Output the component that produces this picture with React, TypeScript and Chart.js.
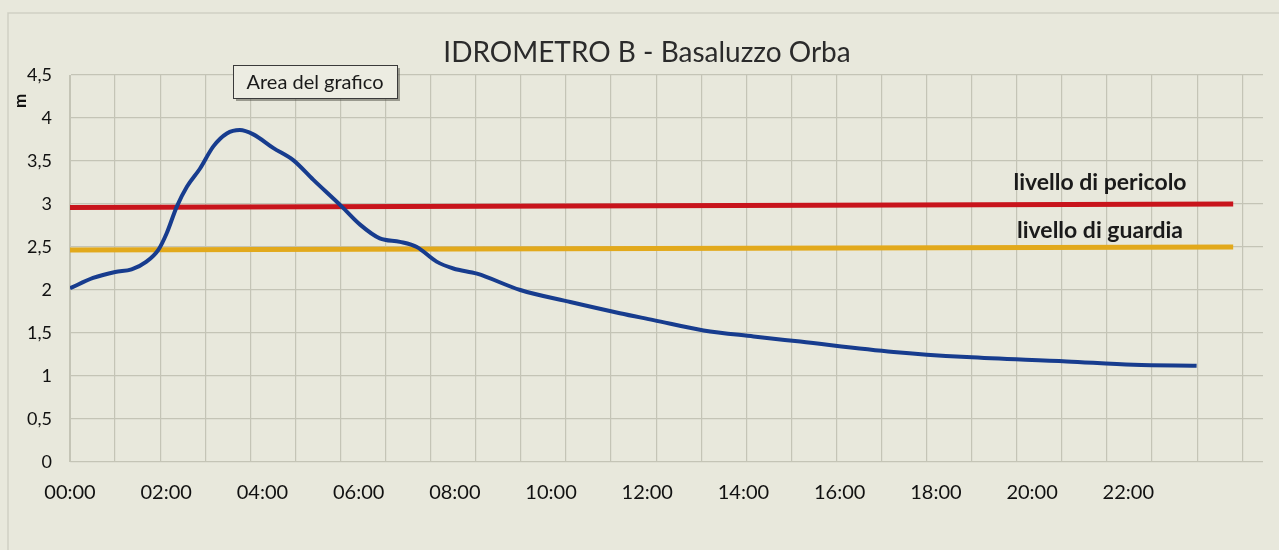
import React, { useEffect, useRef } from "react";
import { Chart, registerables } from "chart.js";

Chart.register(...registerables);

// ---- data ----
const chartTitle = "IDROMETRO B - Basaluzzo Orba";
const yUnit = "m";
const hours = [0, 0.48, 0.94, 1.28, 1.59, 1.84, 2.01, 2.22, 2.43, 2.7, 2.98, 3.26, 3.53, 3.81, 4.23, 4.64, 5.06, 5.65, 6.03, 6.44, 6.86, 7.21, 7.62, 7.97, 8.46, 9.36, 10.4, 11.43, 12.13, 13.17, 14.21, 15.18, 17.12, 18.64, 20.72, 22.11, 23.42];
const levels = [2.02, 2.14, 2.21, 2.24, 2.33, 2.47, 2.66, 2.97, 3.2, 3.41, 3.67, 3.82, 3.86, 3.81, 3.65, 3.51, 3.28, 2.97, 2.76, 2.6, 2.56, 2.5, 2.33, 2.25, 2.19, 2.0, 1.86, 1.73, 1.65, 1.53, 1.46, 1.4, 1.28, 1.22, 1.17, 1.13, 1.12];
const thresholdHours = [0, 24.18];
const dangerLevel = [2.96, 3.0];
const guardLevel = [2.465, 2.5];
const dangerLabel = "livello di pericolo";
const guardLabel = "livello di guardia";
const tooltipLabel = "Area del grafico";
const xLabelHours = [0, 2, 4, 6, 8, 10, 12, 14, 16, 18, 20, 22];

const FONT = "Lato, 'Open Sans', sans-serif";
const BG = "#e8e8dc";
const GRID = "#c4c4b6";

const fmtHour = (h: number) => String(h).padStart(2, "0") + ":00";

const decorPlugin = {
  id: "decor",
  beforeDraw(chart: any) {
    const { ctx, width, height } = chart;
    ctx.save();
    ctx.fillStyle = BG;
    ctx.fillRect(0, 0, width, height);
    ctx.strokeStyle = "#cfcfc3";
    ctx.lineWidth = 1.5;
    ctx.beginPath();
    ctx.moveTo(8, height);
    ctx.lineTo(8, 13);
    ctx.lineTo(width, 13);
    ctx.stroke();
    ctx.restore();
  },
  afterDraw(chart: any) {
    const { ctx } = chart;
    ctx.save();
    // title
    ctx.fillStyle = "#2b2b2b";
    ctx.font = `28px ${FONT}`;
    ctx.textAlign = "center";
    ctx.textBaseline = "alphabetic";
    ctx.fillText(chartTitle, 647, 62);

    // y unit (rotated)
    ctx.save();
    ctx.translate(21, 101);
    ctx.rotate(-Math.PI / 2);
    ctx.font = `bold 17px ${FONT}`;
    ctx.fillStyle = "#111";
    ctx.textAlign = "center";
    ctx.textBaseline = "middle";
    ctx.fillText(yUnit, 0, 0);
    ctx.restore();

    // threshold labels
    ctx.fillStyle = "#1a1a1a";
    ctx.font = `bold 23px ${FONT}`;
    ctx.textAlign = "center";
    ctx.textBaseline = "middle";
    ctx.fillText(dangerLabel, 1100, 183);
    ctx.fillText(guardLabel, 1100, 231);

    // "Area del grafico" tooltip box
    const bx = 233, by = 65, bw = 164, bh = 33;
    ctx.fillStyle = "rgba(90,90,80,0.55)";
    ctx.fillRect(bx + 3, by + 3, bw, bh);
    ctx.fillStyle = "#ecece2";
    ctx.fillRect(bx, by, bw, bh);
    ctx.strokeStyle = "#3a3a3a";
    ctx.lineWidth = 1;
    ctx.strokeRect(bx + 0.5, by + 0.5, bw, bh);
    ctx.fillStyle = "#1a1a1a";
    ctx.font = `20px ${FONT}`;
    ctx.textAlign = "center";
    ctx.textBaseline = "middle";
    ctx.fillText(tooltipLabel, bx + bw / 2, by + bh / 2 + 1);
    ctx.restore();
  },
};

export default function App() {
  const ref = useRef<HTMLCanvasElement | null>(null);
  useEffect(() => {
    if (!ref.current) return;
    const chart = new Chart(ref.current, {
      type: "line",
      data: {
        datasets: [
          {
            label: "Livello",
            data: hours.map((h, i) => ({ x: h, y: levels[i] })),
            borderColor: "#173c8e",
            borderWidth: 4,
            pointRadius: 0,
            cubicInterpolationMode: "monotone",
            fill: false,
          },
          {
            label: dangerLabel,
            data: thresholdHours.map((h, i) => ({ x: h, y: dangerLevel[i] })),
            borderColor: "#c8141c",
            borderWidth: 5,
            pointRadius: 0,
            fill: false,
          },
          {
            label: guardLabel,
            data: thresholdHours.map((h, i) => ({ x: h, y: guardLevel[i] })),
            borderColor: "#e2a91c",
            borderWidth: 5,
            pointRadius: 0,
            fill: false,
          },
        ],
      },
      options: {
        animation: false,
        responsive: false,
        maintainAspectRatio: false,
        layout: { padding: { left: 0, top: 75, right: 16, bottom: 0 } },
        plugins: {
          legend: { display: false },
          tooltip: { enabled: false },
          title: { display: false },
        },
        scales: {
          x: {
            type: "linear",
            position: "bottom",
            min: 0,
            max: 24.8,
            afterFit: (s: any) => { s.height = 88; },
            afterBuildTicks: (s: any) => {
              s.ticks = xLabelHours.map((v) => ({ value: v }));
            },
            ticks: {
              autoSkip: false,
              maxRotation: 0,
              padding: 19,
              color: "#111",
              font: { family: FONT, size: 20 },
              callback: (v: any) => fmtHour(Number(v)),
            },
            grid: { display: false, drawTicks: false },
            border: { display: false },
          },
          x2: {
            type: "linear",
            position: "top",
            min: 0,
            max: 26.46,
            afterFit: (s: any) => { s.height = 0; },
            ticks: { display: false, stepSize: 1, includeBounds: false },
            grid: { display: true, color: GRID, lineWidth: 1.2, drawTicks: false },
            border: { display: false },
          },
          y: {
            type: "linear",
            min: 0,
            max: 4.5,
            afterFit: (s: any) => { s.width = 70; },
            ticks: {
              stepSize: 0.5,
              padding: 18,
              color: "#111",
              font: { family: FONT, size: 18 },
              callback: (v: any) => String(v).replace(".", ","),
            },
            grid: { color: GRID, lineWidth: 1.2, drawTicks: false },
            border: { display: true, color: GRID },
          },
        },
      } as any,
      plugins: [decorPlugin],
    });
    return () => chart.destroy();
  }, []);

  return (
    <div style={{ position: "fixed", left: 0, top: 0, width: 1279, height: 550, background: BG }}>
      <canvas ref={ref} width={1279} height={550} style={{ display: "block" }} />
    </div>
  );
}
